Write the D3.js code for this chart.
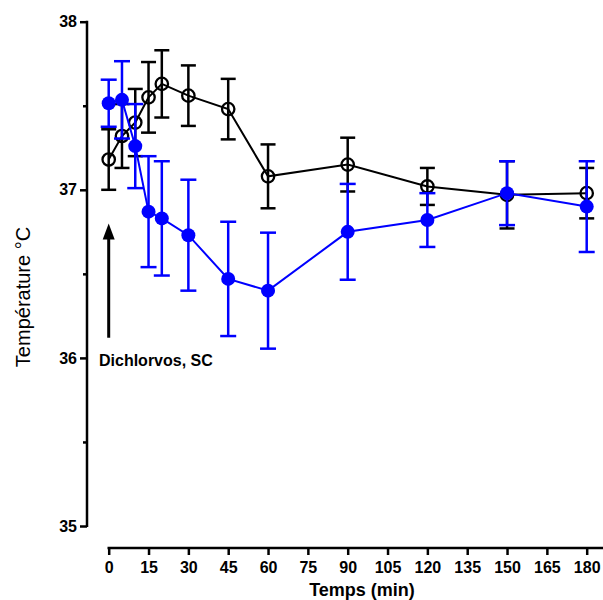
<!DOCTYPE html>
<html>
<head>
<meta charset="utf-8">
<script src="https://cdn.jsdelivr.net/npm/d3@7"></script>
<style>
  body { margin: 0; background: #fff; }
  svg { display: block; font-family: Arial, "Liberation Sans", sans-serif; }
</style>
</head>
<body>
<div id="chart"></div>
<script>
// time points (min)
const times = [0, 5, 10, 15, 20, 30, 45, 60, 90, 120, 150, 180];
// control group (open circles)
const controlMean = [37.18, 37.32, 37.40, 37.55, 37.63, 37.56, 37.48, 37.08, 37.15, 37.02, 36.97, 36.98];
const controlSem  = [0.18, 0.19, 0.20, 0.21, 0.20, 0.18, 0.18, 0.19, 0.16, 0.11, 0.20, 0.15];
// dichlorvos group (filled blue)
const dichlorvosMean = [37.515, 37.535, 37.26, 36.87, 36.83, 36.73, 36.47, 36.40, 36.75, 36.82, 36.98, 36.90];
const dichlorvosSem  = [0.14, 0.23, 0.25, 0.33, 0.34, 0.33, 0.34, 0.345, 0.285, 0.16, 0.19, 0.27];

const xTicks = d3.range(0, 181, 15);
const yMajor = [35, 36, 37, 38];
const yMinor = [35.5, 36.5, 37.5];
// injection arrow (t = 0)
const arrowFrom = 36.12, arrowTo = 36.8;

var width = 603, height = 600;

var svg = d3.select("#chart")
  .append("svg")
  .attr("width", width)
  .attr("height", height);

var x = d3.scaleLinear().domain([0, 180]).range([108.7, 586.7]);
var y = d3.scaleLinear().domain([35, 38]).range([526, 21.7]);

var yAxisX = 87, xAxisY = 548;

// Y axis
var yAxis = svg.append("g")
  .attr("transform", "translate(" + yAxisX + ",0)")
  .call(d3.axisLeft(y).tickValues(yMajor).tickSize(7).tickPadding(3).tickFormat(d3.format("d")));
yAxis.select(".domain").remove();
yAxis.selectAll(".tick line").attr("stroke-width", 2.5);
yAxis.selectAll(".tick text")
  .style("font-size", "16px").style("font-weight", "bold").attr("fill", "#000");

var yMinorAxis = svg.append("g")
  .attr("transform", "translate(" + yAxisX + ",0)")
  .call(d3.axisLeft(y).tickValues(yMinor).tickSize(4).tickFormat(""));
yMinorAxis.select(".domain").remove();
yMinorAxis.selectAll(".tick line").attr("stroke-width", 2.5);

svg.append("line")
  .attr("x1", yAxisX).attr("x2", yAxisX)
  .attr("y1", y(38) - 1).attr("y2", y(35) + 1)
  .attr("stroke", "#000").attr("stroke-width", 2.5);

// X axis
var xAxis = svg.append("g")
  .attr("transform", "translate(0," + xAxisY + ")")
  .call(d3.axisBottom(x).tickValues(xTicks).tickSize(7).tickPadding(7));
xAxis.select(".domain").remove();
xAxis.selectAll(".tick line").attr("stroke-width", 2.5);
xAxis.selectAll(".tick text")
  .style("font-size", "16px").style("font-weight", "bold").attr("fill", "#000");

svg.append("line")
  .attr("x1", x(0) - 1.2).attr("x2", width)
  .attr("y1", xAxisY).attr("y2", xAxisY)
  .attr("stroke", "#000").attr("stroke-width", 2.5);

// axis titles
svg.append("text")
  .attr("x", 362).attr("y", 596)
  .attr("text-anchor", "middle")
  .style("font-size", "18px").style("font-weight", "bold")
  .text("Temps (min)");

svg.append("text")
  .attr("transform", "translate(29.5,297) rotate(-90)")
  .attr("text-anchor", "middle")
  .style("font-size", "20px")
  .text("Température °C");

// arrow annotation
svg.append("line")
  .attr("x1", x(0)).attr("x2", x(0))
  .attr("y1", y(arrowFrom)).attr("y2", y(arrowTo) + 12)
  .attr("stroke", "#000").attr("stroke-width", 3);
svg.append("path")
  .attr("d", "M" + x(0) + "," + y(arrowTo) +
    " L" + (x(0) + 6) + "," + (y(arrowTo) + 16) +
    " L" + (x(0) - 6) + "," + (y(arrowTo) + 16) + " Z")
  .attr("fill", "#000");
svg.append("text")
  .attr("x", 99).attr("y", y(36) + 8)
  .style("font-size", "16px").style("font-weight", "bold")
  .text("Dichlorvos, SC");

function drawSeries(means, sems, color, filled, capHalf) {
  var data = times.map((t, i) => ({ t: t, m: means[i], s: sems[i] }));
  var g = svg.append("g");

  // error bars
  var eb = g.selectAll(".eb").data(data).enter().append("g")
    .attr("stroke", color).attr("stroke-width", 2.5);
  eb.append("line")
    .attr("x1", d => x(d.t)).attr("x2", d => x(d.t))
    .attr("y1", d => y(d.m + d.s)).attr("y2", d => y(d.m - d.s));
  eb.append("line")
    .attr("x1", d => x(d.t) - capHalf).attr("x2", d => x(d.t) + capHalf)
    .attr("y1", d => y(d.m + d.s)).attr("y2", d => y(d.m + d.s));
  eb.append("line")
    .attr("x1", d => x(d.t) - capHalf).attr("x2", d => x(d.t) + capHalf)
    .attr("y1", d => y(d.m - d.s)).attr("y2", d => y(d.m - d.s));

  // line
  g.append("path")
    .datum(data)
    .attr("fill", "none")
    .attr("stroke", color)
    .attr("stroke-width", 2)
    .attr("d", d3.line().x(d => x(d.t)).y(d => y(d.m)));

  // markers (open circles are hollow: bars show through)
  g.selectAll("circle").data(data).enter().append("circle")
    .attr("cx", d => x(d.t)).attr("cy", d => y(d.m))
    .attr("r", filled ? 7 : 6.2)
    .attr("fill", filled ? color : "none")
    .attr("stroke", color)
    .attr("stroke-width", filled ? 0 : 2.3);
}

drawSeries(controlMean, controlSem, "#000", false, 7.5);
drawSeries(dichlorvosMean, dichlorvosSem, "#0000ff", true, 8);
</script>
</body>
</html>
